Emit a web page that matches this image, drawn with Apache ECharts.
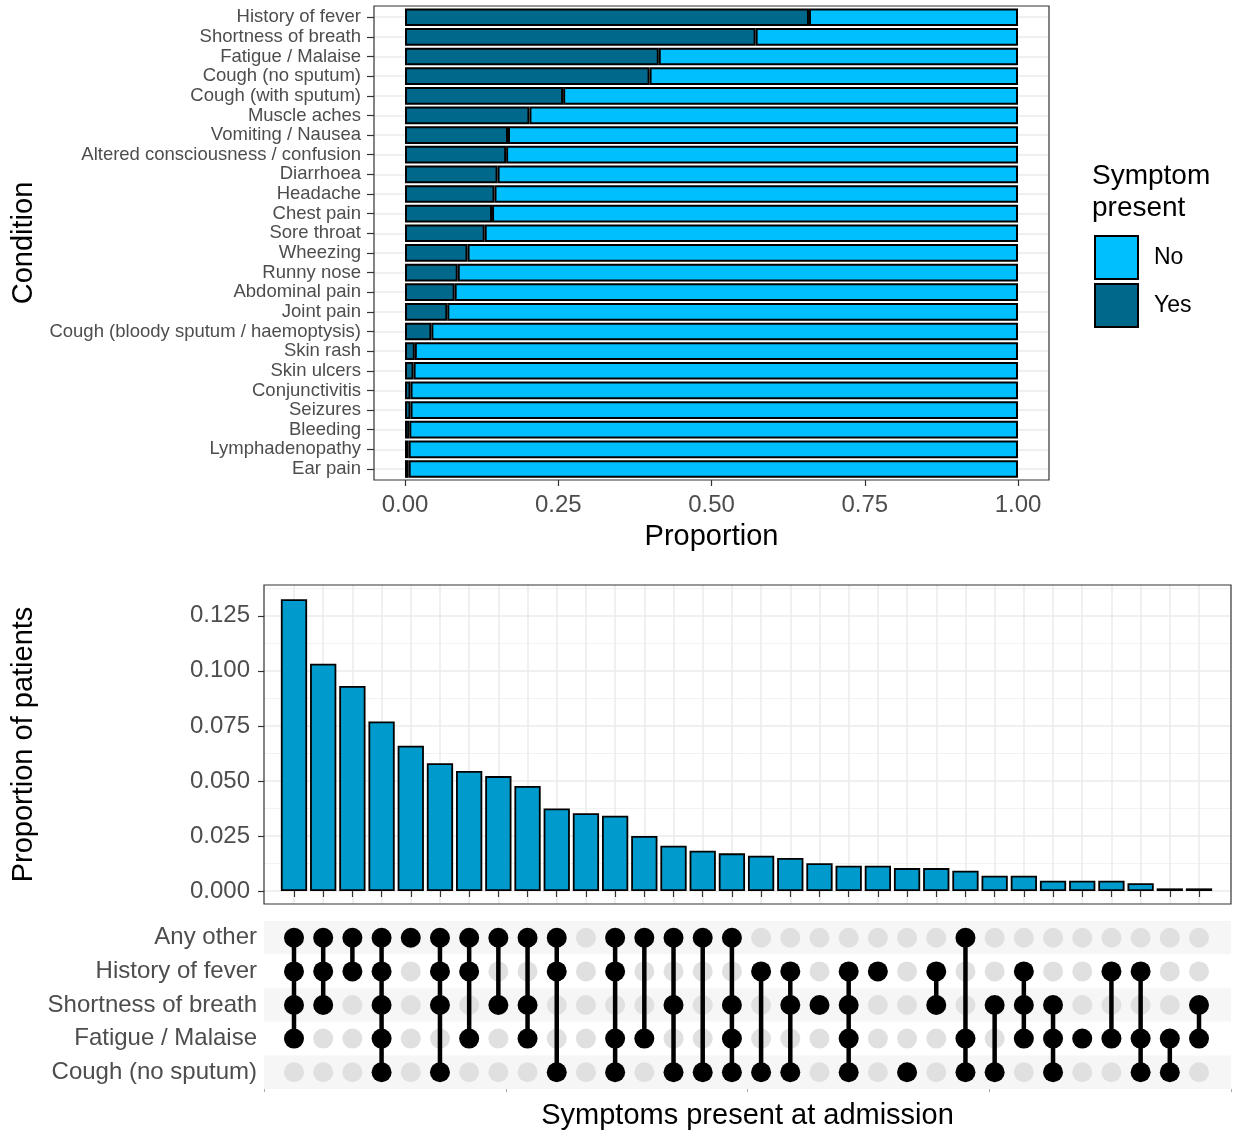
<!DOCTYPE html>
<html>
<head>
<meta charset="utf-8">
<script src="https://cdn.jsdelivr.net/npm/echarts@6/dist/echarts.min.js"></script>
<style>
html,body{margin:0;padding:0;background:#fff;}
#chart{width:1235px;height:1142px;}
</style>
</head>
<body>
<div id="chart"></div>
<script>
// ---------- DATA ----------
const conditions = [
  'History of fever','Shortness of breath','Fatigue / Malaise','Cough (no sputum)',
  'Cough (with sputum)','Muscle aches','Vomiting / Nausea','Altered consciousness / confusion',
  'Diarrhoea','Headache','Chest pain','Sore throat','Wheezing','Runny nose','Abdominal pain',
  'Joint pain','Cough (bloody sputum / haemoptysis)','Skin rash','Skin ulcers','Conjunctivitis',
  'Seizures','Bleeding','Lymphadenopathy','Ear pain'
];
const yesProportion = [
  0.659,0.572,0.414,0.399,0.258,0.203,0.168,0.165,0.151,0.146,0.142,0.130,
  0.102,0.086,0.081,0.069,0.043,0.016,0.014,0.009,0.009,0.007,0.006,0.006
];
const noProportion = [
  0.341,0.428,0.586,0.601,0.742,0.797,0.832,0.835,0.849,0.854,0.858,0.870,
  0.898,0.914,0.919,0.931,0.957,0.984,0.986,0.991,0.991,0.993,0.994,0.994
];
const proportionTicks = [0, 0.25, 0.5, 0.75, 1];

const setRows = ['Any other','History of fever','Shortness of breath','Fatigue / Malaise','Cough (no sputum)'];
// membership of each intersection column (names from setRows)
const setMembers = [
  ['Any other','History of fever','Shortness of breath','Fatigue / Malaise'],
  ['Any other','History of fever','Shortness of breath'],
  ['Any other','History of fever'],
  ['Any other','History of fever','Shortness of breath','Fatigue / Malaise','Cough (no sputum)'],
  ['Any other'],
  ['Any other','History of fever','Shortness of breath','Cough (no sputum)'],
  ['Any other','History of fever','Fatigue / Malaise'],
  ['Any other','Shortness of breath'],
  ['Any other','Shortness of breath','Fatigue / Malaise'],
  ['Any other','History of fever','Cough (no sputum)'],
  [],
  ['Any other','History of fever','Fatigue / Malaise','Cough (no sputum)'],
  ['Any other','Fatigue / Malaise'],
  ['Any other','Shortness of breath','Cough (no sputum)'],
  ['Any other','Cough (no sputum)'],
  ['Any other','Shortness of breath','Fatigue / Malaise','Cough (no sputum)'],
  ['History of fever','Cough (no sputum)'],
  ['History of fever','Shortness of breath','Cough (no sputum)'],
  ['Shortness of breath'],
  ['History of fever','Shortness of breath','Fatigue / Malaise','Cough (no sputum)'],
  ['History of fever'],
  ['Cough (no sputum)'],
  ['History of fever','Shortness of breath'],
  ['Any other','Fatigue / Malaise','Cough (no sputum)'],
  ['Shortness of breath','Cough (no sputum)'],
  ['History of fever','Shortness of breath','Fatigue / Malaise'],
  ['Shortness of breath','Fatigue / Malaise','Cough (no sputum)'],
  ['Fatigue / Malaise'],
  ['History of fever','Fatigue / Malaise'],
  ['History of fever','Fatigue / Malaise','Cough (no sputum)'],
  ['Fatigue / Malaise','Cough (no sputum)'],
  ['Shortness of breath','Fatigue / Malaise']
];
const setProportion = [
  0.1325,0.1032,0.0931,0.0770,0.0660,0.0580,0.0545,0.0522,0.0477,0.0375,0.0353,0.0342,
  0.0250,0.0206,0.0183,0.0171,0.0160,0.0150,0.0126,0.0115,0.0115,0.0104,0.0104,0.0092,
  0.0069,0.0069,0.0047,0.0047,0.0047,0.0035,0.0012,0.0012
];
const patientTicks = [0, 0.025, 0.05, 0.075, 0.1, 0.125];

// ---------- BUILD ----------
const FONT = 'Liberation Sans, Arial, Helvetica, sans-serif';
const TICKCOL = '#4D4D4D';
const GRIDCOL = '#EBEBEB';
const setCats = setMembers.map((m, i) => m.length ? m.join(' & ') : '(none)');

const greyDots = [];
const blackDots = [];
const links = [];
setMembers.forEach((m, c) => {
  const idx = m.map(n => setRows.indexOf(n));
  setRows.forEach((r, ri) => {
    if (idx.indexOf(ri) < 0) greyDots.push([c, ri]);
    else blackDots.push([c, ri]);
  });
  if (idx.length > 1) links.push([c, Math.min.apply(null, idx), Math.max.apply(null, idx)]);
});

const chart = echarts.init(document.getElementById('chart'), null, {renderer: 'canvas'});

const hiddenValueX = (gi) => ({type:'value', gridIndex: gi, show:false, min:0, max:1});

const option = {
  animation: false,
  backgroundColor: '#fff',
  textStyle: {fontFamily: FONT},
  title: [{
    text: 'Symptom\npresent',
    left: 1092, top: 160, padding: 0,
    textStyle: {fontFamily: FONT, fontSize: 28, fontWeight: 'normal', color: '#000', lineHeight: 32}
  }],
  legend: {
    data: ['No','Yes'],
    orient: 'vertical',
    left: 1094, top: 235, padding: 0,
    itemWidth: 43, itemHeight: 43, itemGap: 3,
    icon: 'rect',
    itemStyle: {borderColor: '#000', borderWidth: 2},
    textStyle: {fontFamily: FONT, fontSize: 23, color: '#000', padding: [0,0,0,11]},
    selectedMode: false
  },
  grid: [
    // 0: top panel frame
    {left: 374, top: 6, width: 675, height: 474, show: true, borderColor: '#333', borderWidth: 1.2, backgroundColor: 'transparent', z: 3},
    // 1: top category gridlines / labels
    {left: 374, top: 7.4, width: 675, height: 471.4},
    // 2: top bars
    {left: 405, top: 7.4, width: 613, height: 471.4},
    // 3: bottom panel frame
    {left: 264, top: 585, width: 967, height: 319, show: true, borderColor: '#333', borderWidth: 1.2, backgroundColor: 'transparent', z: 3},
    // 4: bottom value gridlines
    {left: 264, top: 585, width: 967, height: 306},
    // 5: bottom bars
    {left: 279.4, top: 585, width: 934.2, height: 319},
    // 6: matrix stripes
    {left: 264, top: 921, width: 967, height: 168},
    // 7: matrix dots
    {left: 279.4, top: 921, width: 934.2, height: 168}
  ],
  xAxis: [
    hiddenValueX(0),
    hiddenValueX(1),
    {type:'value', gridIndex:2, min:0, max:1, interval:0.25, offset:1.2,
     name:'Proportion', nameLocation:'middle', nameGap:42,
     nameTextStyle:{fontFamily:FONT, fontSize:29, color:'#000'},
     axisLine:{show:false}, splitLine:{show:false},
     axisTick:{show:true, length:6, lineStyle:{color:'#333', width:1.2}},
     axisLabel:{fontFamily:FONT, fontSize:24, color:TICKCOL, margin:13,
       formatter: v => { const t = proportionTicks.find(p => Math.abs(p - v) < 1e-9); return (t === undefined ? v : t).toFixed(2); }}},
    hiddenValueX(3),
    hiddenValueX(4),
    {type:'category', gridIndex:5, data: setCats,
     axisLine:{show:false},
     axisLabel:{show:false},
     axisTick:{show:true, alignWithLabel:true, interval:0, length:6, lineStyle:{color:'#333', width:1.2}},
     splitLine:{show:true, alignWithLabel:true, interval:0, lineStyle:{color:GRIDCOL, width:1.5}}},
    {type:'value', gridIndex:6, min:0, max:1, interval:0.25,
     name:'Symptoms present at admission', nameLocation:'middle', nameGap:12,
     nameTextStyle:{fontFamily:FONT, fontSize:29, color:'#000'},
     axisLine:{show:false}, axisLabel:{show:false}, splitLine:{show:false},
     axisTick:{show:true, length:3, lineStyle:{color:'#AAAAAA', width:1}}},
    {type:'category', gridIndex:7, data: setCats, show:false}
  ],
  yAxis: [
    {type:'value', gridIndex:0, min:0, max:1,
     name:'Condition', nameLocation:'middle', nameRotate:90, nameGap:336,
     nameTextStyle:{fontFamily:FONT, fontSize:29, color:'#000'},
     axisLine:{show:false}, axisTick:{show:false}, axisLabel:{show:false}, splitLine:{show:false}},
    {type:'category', gridIndex:1, data: conditions, inverse:true,
     axisLine:{show:false},
     axisTick:{show:true, alignWithLabel:true, interval:0, length:7, lineStyle:{color:'#333', width:1.2}},
     axisLabel:{interval:0, fontFamily:FONT, fontSize:18.5, color:TICKCOL, margin:13, padding:[2,0,0,0]},
     splitLine:{show:true, alignWithLabel:true, interval:0, lineStyle:{color:GRIDCOL, width:1.5}}},
    {type:'category', gridIndex:2, data: conditions, inverse:true, show:false},
    {type:'value', gridIndex:3, min:0, max:1,
     name:'Proportion of patients', nameLocation:'middle', nameRotate:90, nameGap:226,
     nameTextStyle:{fontFamily:FONT, fontSize:29, color:'#000'},
     axisLine:{show:false}, axisTick:{show:false}, axisLabel:{show:false}, splitLine:{show:false}},
    {type:'value', gridIndex:4, min:0, max:0.139, interval:0.025,
     axisLine:{show:false},
     axisTick:{show:true, length:6, customValues: patientTicks, lineStyle:{color:'#333', width:1.2}},
     axisLabel:{fontFamily:FONT, fontSize:24, color:TICKCOL, margin:14, customValues: patientTicks, padding:[4,0,0,0],
       formatter: v => { const t = patientTicks.find(p => Math.abs(p - v) < 1e-9); return (t === undefined ? v : t).toFixed(3); }},
     splitLine:{show:true, lineStyle:{color:GRIDCOL, width:1.5}},
     minorTick:{show:false, splitNumber:2},
     minorSplitLine:{show:true, lineStyle:{color:'#F2F2F2', width:1}}},
    {type:'value', gridIndex:5, min:-0.0059, max:0.139, show:false},
    {type:'category', gridIndex:6, data: setRows, inverse:true,
     axisLine:{show:false}, axisTick:{show:false},
     axisLabel:{interval:0, fontFamily:FONT, fontSize:24, color:TICKCOL, margin:7, padding:[3,0,0,0]},
     splitLine:{show:false},
     splitArea:{show:true, interval:0, areaStyle:{color:['#F6F6F6','#FFFFFF']}}},
    {type:'category', gridIndex:7, data: setRows, inverse:true, show:false}
  ],
  series: [
    {name:'Yes', type:'bar', xAxisIndex:2, yAxisIndex:2, stack:'p', data: yesProportion,
     barWidth:'90%', itemStyle:{color:'#00688B', borderColor:'#000', borderWidth:2}},
    {name:'No', type:'bar', xAxisIndex:2, yAxisIndex:2, stack:'p', data: noProportion,
     barWidth:'90%', itemStyle:{color:'#00BFFF', borderColor:'#000', borderWidth:2}},
    {name:'sets', type:'bar', xAxisIndex:5, yAxisIndex:5, data: setProportion,
     barWidth:'90%', itemStyle:{color:'#009ACD', borderColor:'#000', borderWidth:1.8}},
    {name:'absent', type:'scatter', xAxisIndex:7, yAxisIndex:7, data: greyDots,
     symbolSize:20, itemStyle:{color:'#E0E0E0', opacity:1}, z:2},
    {name:'links', type:'custom', xAxisIndex:7, yAxisIndex:7, data: links,
     encode:{x:0, y:[1,2]}, z:3,
     renderItem: function(params, api) {
       const p1 = api.coord([api.value(0), api.value(1)]);
       const p2 = api.coord([api.value(0), api.value(2)]);
       return {type:'line', shape:{x1:p1[0], y1:p1[1], x2:p2[0], y2:p2[1]},
               style:{stroke:'#000', lineWidth:4.5}};
     }},
    {name:'present', type:'scatter', xAxisIndex:7, yAxisIndex:7, data: blackDots,
     symbolSize:20, itemStyle:{color:'#000', opacity:1}, z:4}
  ]
};
chart.setOption(option);
</script>
</body>
</html>
